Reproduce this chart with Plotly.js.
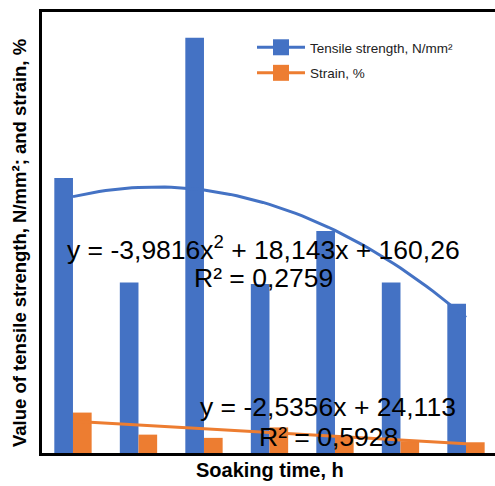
<!DOCTYPE html>
<html><head><meta charset="utf-8">
<script src="https://cdn.plot.ly/plotly-3.0.1.min.js"></script>
<style>html,body{margin:0;padding:0;overflow:hidden;background:#fff}</style>
</head><body><div id="chart"></div>
<script>
// ---- data ----
const categories = [1, 2, 3, 4, 5, 6, 7];
const tensileStrength = [187, 116, 282.5, 115, 151, 116, 101.5];
const strain = [27.5, 12.5, 10.3, 17.4, 11.4, 8.0, 7.3];
const tensileTrendCoef = [-3.9816, 18.143, 160.26]; // a*x^2 + b*x + c
const strainTrendCoef = [-2.5356, 24.113];          // a*x + b
const seriesNames = ['Tensile strength, N/mm²', 'Strain, %'];
const xTitle = 'Soaking time, h';
const yTitle = 'Value of tensile strength, N/mm²; and strain, %';
const tensileEq = ['y = -3,9816x<sup>2</sup> + 18,143x + 160,26', 'R² = 0,2759'];
const strainEq = ['y = -2,5356x + 24,113', 'R² = 0,5928'];

const BLUE = '#4472C4', ORANGE = '#ED7D31';
const FONT = 'Liberation Sans, Arial, sans-serif';

// trendline curves from the printed equations
const trendX = [];
for (let i = 0; i <= 60; i++) trendX.push(categories[0] + i * (categories[categories.length - 1] - categories[0]) / 60);
const tensileTrendY = trendX.map(x => tensileTrendCoef[0] * x * x + tensileTrendCoef[1] * x + tensileTrendCoef[2]);
const strainTrendY = trendX.map(x => strainTrendCoef[0] * x + strainTrendCoef[1]);

const W = 499, H = 486, L = 42, R = 0, T = 12, B = 33;
const pw = W - L - R, ph = H - T - B;
const px = v => (v - L) / pw;
const py = v => (H - B - v) / ph;

const traces = [
  {type: 'bar', x: categories, y: tensileStrength, marker: {color: BLUE}, showlegend: false, hoverinfo: 'skip'},
  {type: 'bar', x: categories, y: strain, marker: {color: ORANGE}, showlegend: false, hoverinfo: 'skip'},
  {type: 'scatter', mode: 'lines', x: trendX, y: tensileTrendY, line: {color: BLUE, width: 3}, showlegend: false, hoverinfo: 'skip'},
  {type: 'scatter', mode: 'lines', x: trendX, y: strainTrendY, line: {color: ORANGE, width: 3}, showlegend: false, hoverinfo: 'skip'},
  {type: 'scatter', mode: 'lines+markers', x: [null], y: [null], name: seriesNames[0], legendgroup: 'a',
   line: {color: BLUE, width: 3}, marker: {color: BLUE, symbol: 'square', size: 16}},
  {type: 'scatter', mode: 'lines+markers', x: [null], y: [null], name: seriesNames[1], legendgroup: 'b',
   line: {color: ORANGE, width: 3}, marker: {color: ORANGE, symbol: 'square', size: 16}}
];

function ann(text, x, y, size, extra) {
  return Object.assign({text: text, xref: 'paper', yref: 'paper', x: px(x), y: py(y),
    xanchor: 'center', yanchor: 'middle', showarrow: false, font: {size: size, family: FONT, color: '#000'}}, extra || {});
}

const layout = {
  width: W, height: H,
  margin: {l: L, r: R, t: T, b: B, pad: 0},
  paper_bgcolor: '#fff', plot_bgcolor: '#fff',
  barmode: 'group', bargap: 0.43, bargroupgap: 0,
  font: {family: FONT, color: '#000'},
  xaxis: {range: [0.527, 7.504], showticklabels: false, ticks: '', showgrid: false, zeroline: false,
          showline: true, linecolor: '#000', linewidth: 3, mirror: true},
  yaxis: {range: [0, 300], showticklabels: false, ticks: '', showgrid: false, zeroline: false,
          showline: true, linecolor: '#000', linewidth: 3},
  legend: {x: px(252), y: py(32), xanchor: 'left', yanchor: 'top', bgcolor: 'rgba(0,0,0,0)',
           itemwidth: 48,
           font: {size: 13.5, family: FONT, color: '#222'}, traceorder: 'grouped', tracegroupgap: 5},
  annotations: [
    ann('<b>' + xTitle + '</b>', 270, 470, 20),
    ann('<b>' + yTitle + '</b>', 19, 243, 18.5, {textangle: -90}),
    ann(tensileEq[0], 263, 248, 26.5),
    ann(tensileEq[1], 263, 278, 26.5),
    ann(strainEq[0], 328, 407, 26.5),
    ann(strainEq[1], 328, 437, 26.5)
  ]
};

Plotly.newPlot('chart', traces, layout, {displayModeBar: false, staticPlot: true});
</script></body></html>
